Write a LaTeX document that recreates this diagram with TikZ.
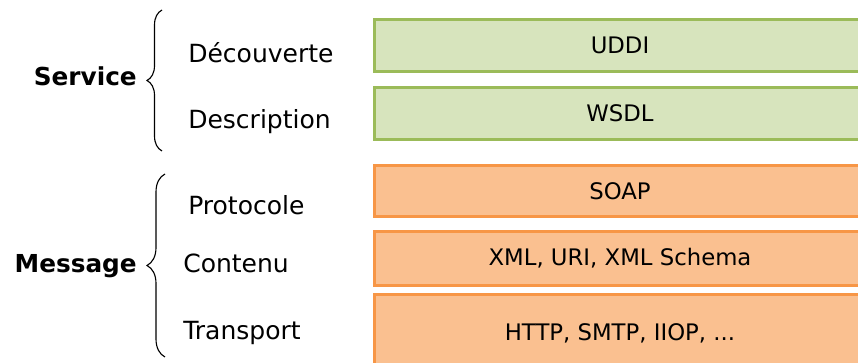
\documentclass[tikz,border=0pt]{standalone}
\usepackage{fontspec}
\setmainfont{DejaVu Sans}
\usetikzlibrary{decorations.pathreplacing}

\definecolor{serviceFill}{HTML}{D7E4BD}
\definecolor{serviceDraw}{HTML}{9BBB59}
\definecolor{messageFill}{HTML}{FAC090}
\definecolor{messageDraw}{HTML}{F79646}

\begin{document}
\begin{tikzpicture}
            [layerBox/.style={rectangle,
                        draw,
                        line width=2.1pt,
                        minimum width=12.275cm,
                        inner sep=0pt,
                        font=\fontsize{16.2}{19}\selectfont},
             serviceLayer/.style={layerBox, draw=serviceDraw, fill=serviceFill},
             messageLayer/.style={layerBox, draw=messageDraw, fill=messageFill},
             layerLabel/.style={anchor=base west, inner sep=0pt, font=\fontsize{17.8}{21}\selectfont},
             groupLabel/.style={anchor=base east, inner sep=0pt, font=\bfseries\fontsize{17.6}{21}\selectfont},
             groupBrace/.style={decorate, line width=0.8pt, decoration={brace, amplitude=#1}}]

            \path[use as bounding box, clip] (0,0) rectangle (21.45,9.075);

            \node[serviceLayer, minimum height=1.3cm] (uddi) at (15.5,7.9375) {UDDI};
            \node[serviceLayer, minimum height=1.3cm] (wsdl) at (15.5,6.2375) {WSDL};
            \node[messageLayer, minimum height=1.275cm] (soap) at (15.5,4.3) {SOAP};
            \node[messageLayer, minimum height=1.35cm] (xml) at (15.5,2.6125) {XML, URI, XML Schema};
            \node[messageLayer, minimum height=1.925cm] (http) at (15.5,0.75) {HTTP, SMTP, IIOP, ...};

            \node[layerLabel] (decouverte) at (4.7,7.5075) {Découverte};
            \node[layerLabel] (description) at (4.7,5.85) {Description};
            \node[layerLabel] (protocole) at (4.7,3.7) {Protocole};
            \node[layerLabel] (contenu) at (4.575,2.25) {Contenu};
            \node[layerLabel] (transport) at (4.575,0.575) {Transport};

            \node[groupLabel] (service) at (3.425,6.925) {Service};
            \node[groupLabel] (message) at (3.425,2.25) {Message};

            \coordinate (serviceBottom) at (4.05,5.3);
            \coordinate (serviceTop) at (4.05,8.825);
            \coordinate (messageBottom) at (4.125,0.15);
            \coordinate (messageTop) at (4.125,4.725);

            \draw [groupBrace=0.375cm] (serviceBottom) to (serviceTop);
            \draw [groupBrace=0.45cm] (messageBottom) to (messageTop);
        \end{tikzpicture}
\end{document}
